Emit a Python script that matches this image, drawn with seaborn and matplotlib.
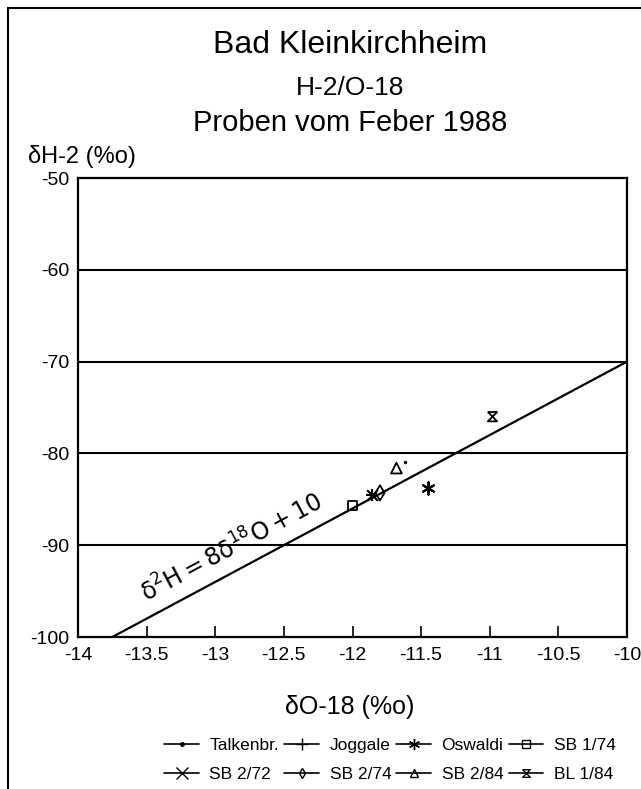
import matplotlib
matplotlib.use("Agg")
import matplotlib.pyplot as plt
import seaborn as sns
import numpy as np
from matplotlib.path import Path
from matplotlib.lines import Line2D

# ---- data ----
sites = ["Talkenbr.", "Joggale", "Oswaldi", "SB 1/74", "SB 2/72", "SB 2/74", "SB 2/84", "BL 1/84"]
o18 = [-11.62, -11.86, -11.45, -12.0, -11.86, -11.80, -11.68, -10.98]
h2 = [-80.9, -84.5, -83.8, -85.7, -84.5, -84.3, -81.6, -76.0]
gmwl_o18 = [-13.75, -10.0]
gmwl_h2 = [-100.0, -70.0]
xticks = [-14, -13.5, -13, -12.5, -12, -11.5, -11, -10.5, -10]
xtick_labels = ["-14", "-13.5", "-13", "-12.5", "-12", "-11.5", "-11", "-10.5", "-10"]
yticks = [-100, -90, -80, -70, -60, -50]
ytick_labels = ["-100", "-90", "-80", "-70", "-60", "-50"]

sns.set_theme(style="white")
plt.rcParams['font.family'] = ['Liberation Sans', 'DejaVu Sans']
plt.rcParams['text.color'] = 'black'
plt.rcParams['axes.labelcolor'] = 'black'
plt.rcParams['xtick.color'] = 'black'
plt.rcParams['ytick.color'] = 'black'

hourglass = Path([(-1, 1), (1, 1), (-1, -1), (1, -1), (-1, 1)],
                 [Path.MOVETO, Path.LINETO, Path.LINETO, Path.LINETO, Path.LINETO])
styles = {
    "Talkenbr.": dict(marker="o", s=6, filled=True),
    "Joggale": dict(marker="+", s=70, filled=False),
    "Oswaldi": dict(marker=(6, 2, 0), s=80, filled=False),
    "SB 1/74": dict(marker="s", s=45, filled=None),
    "SB 2/72": dict(marker="x", s=60, filled=False),
    "SB 2/74": dict(marker="d", s=60, filled=None),
    "SB 2/84": dict(marker="^", s=60, filled=None),
    "BL 1/84": dict(marker=hourglass, s=45, filled=None),
}

fig = plt.figure(figsize=(6.41, 7.89), dpi=100)
ax = fig.add_axes([78/641, 1-637/789, (627-78)/641, (637-178)/789])

sns.lineplot(x=gmwl_o18, y=gmwl_h2, ax=ax, color="black", lw=1.6)

for name, xv, yv in zip(sites, o18, h2):
    st = styles[name]
    if st["filled"] is None:
        sns.scatterplot(x=[xv], y=[yv], ax=ax, marker=st["marker"], s=st["s"],
                        facecolor="none", edgecolor="black", linewidth=1.3)
    elif st["filled"]:
        sns.scatterplot(x=[xv], y=[yv], ax=ax, marker=st["marker"], s=st["s"],
                        color="black", linewidth=0)
    else:
        sns.scatterplot(x=[xv], y=[yv], ax=ax, marker=st["marker"], s=st["s"],
                        color="black", linewidth=1.5)

ax.set_xlim(-14, -10)
ax.set_ylim(-100, -50)
ax.set_xticks(xticks)
ax.set_xticklabels(xtick_labels, fontsize=14)
ax.set_yticks(yticks)
ax.set_yticklabels(ytick_labels, fontsize=14)
ax.tick_params(axis="x", direction="in", length=8, width=1.2, color="black", pad=7, bottom=True)
ax.tick_params(axis="y", length=0, pad=6)
for yg in [-90, -80, -70, -60]:
    ax.axhline(yg, color="black", lw=1.5)
for sp in ax.spines.values():
    sp.set_color("black")
    sp.set_linewidth(1.6)
ax.set_xlabel("")
ax.set_ylabel("")

ax.text(-12.88, -90.3, r"$\mathrm{\delta^2H = 8\delta^{18}O + 10}$", rotation=28.1,
        rotation_mode="anchor", ha="center", va="center", fontsize=17, color="black")

# titles
fig.text(350/641, 1-45/789, "Bad Kleinkirchheim", ha="center", va="center", fontsize=23)
fig.text(350/641, 1-88/789, "H-2/O-18", ha="center", va="center", fontsize=19)
fig.text(350/641, 1-123/789, "Proben vom Feber 1988", ha="center", va="center", fontsize=21)
fig.text(28/641, 1-157/789, "δH-2 (%o)", ha="left", va="center", fontsize=17)
fig.text(350/641, 1-707/789, "δO-18 (%o)", ha="center", va="center", fontsize=18)

# legend (row-wise order like the reference)
handles = []
for name in sites:
    st = styles[name]
    kw = dict(color="black", lw=1.2, marker=st["marker"])
    if st["filled"] is None:
        kw.update(markerfacecolor="none", markersize=5.5)
    elif st["filled"]:
        kw.update(markersize=2.5)
    else:
        kw.update(markersize=8)
    handles.append(Line2D([], [], **kw))
order = [0, 4, 1, 5, 2, 6, 3, 7]
fig.legend([handles[i] for i in order], [sites[i] for i in order], ncol=4, loc="center",
           bbox_to_anchor=(390/641, 1-760/789),
           frameon=False, fontsize=12.5, handlelength=2.0, handletextpad=0.6,
           columnspacing=0.3, labelspacing=0.8)

# outer frame (cropped on right and bottom)
fig.add_artist(Line2D([8/641, 8/641], [0, 1-8/789], color="black", lw=1.5, transform=fig.transFigure))
fig.add_artist(Line2D([8/641, 1], [1-8/789, 1-8/789], color="black", lw=1.5, transform=fig.transFigure))

fig.savefig("out.png", dpi=100, facecolor="white")
